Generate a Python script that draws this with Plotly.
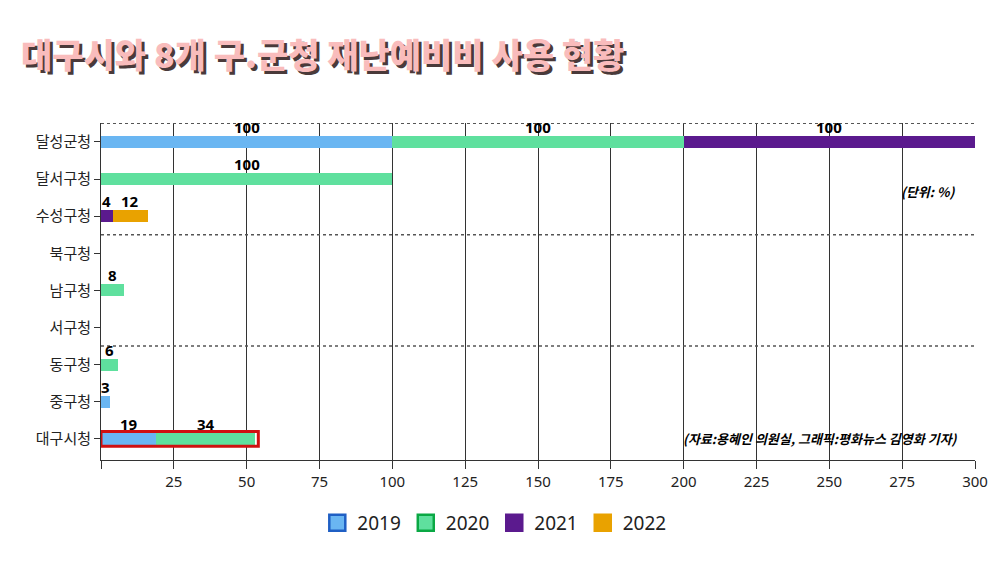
import plotly.graph_objects as go

categories = ["달성군청", "달서구청", "수성구청", "북구청", "남구청", "서구청", "동구청", "중구청", "대구시청"]
years = ["2019", "2020", "2021", "2022"]
v2019 = [100, 0, 0, 0, 0, 0, 0, 3, 19]
v2020 = [100, 100, 0, 0, 8, 0, 6, 0, 34]
v2021 = [100, 0, 4, 0, 0, 0, 0, 0, 0]
v2022 = [0, 0, 12, 0, 0, 0, 0, 0, 0]
series = [v2019, v2020, v2021, v2022]
fills = ["#6ab6f2", "#5fe09e", "#5b1a8e", "#e9a200"]
borders = ["#1f5fc4", "#0aa844", "#5b1a8e", "#e9a200"]
xticks = [0, 25, 50, 75, 100, 125, 150, 175, 200, 225, 250, 275, 300]

fig = go.Figure()
for name, vals, f, b in zip(years, series, fills, borders):
    fig.add_trace(go.Bar(y=categories, x=vals, name=name, orientation="h", showlegend=False,
                         marker=dict(color=f, line=dict(width=0)), width=0.32))
for name, f, b in zip(years, fills, borders):
    fig.add_trace(go.Scatter(x=[None], y=[None], mode="markers", name=name,
                             marker=dict(symbol="square", size=20, color=f, line=dict(color=b, width=2.5))))

ann = []
base = [0] * len(categories)
for vals in series:
    for i, v in enumerate(vals):
        if v > 0:
            ann.append(dict(x=base[i] + v / 2, y=categories[i], text=f"<b>{v}</b>", showarrow=False,
                            yshift=15, font=dict(size=15, color="black", family="Noto Sans")))
        base[i] += v

title = "대구시와 8개 구.군청 재난예비비 사용 현황"
for dx, col in [(3, "#4a3a3a"), (0, "#f9bcbc")]:
    ann.append(dict(xref="paper", yref="paper", x=0.0, y=1.0, xanchor="left", yanchor="middle",
                    text=title, showarrow=False, xshift=-82 + dx, yshift=70 - dx,
                    font=dict(size=34, color=col, family="Noto Sans CJK KR", weight=900)))
ann.append(dict(x=294, y=categories[1], text="<b><i>(단위: %)</i></b>", showarrow=False, yshift=-12,
                xanchor="right", font=dict(size=13, color="black", family="Noto Sans CJK KR")))
ann.append(dict(x=295, y=categories[8], text="<b><i>(자료:용혜인 의원실, 그래픽:평화뉴스 김영화 기자)</i></b>",
                showarrow=False, xanchor="right", font=dict(size=13, color="black", family="Noto Sans CJK KR")))

shapes = []
for yv in [-0.5, 2.5, 5.5]:
    shapes.append(dict(type="line", xref="paper", x0=0, x1=1, y0=yv, y1=yv,
                       line=dict(color="#555", width=1.5, dash="dot")))
shapes.append(dict(type="rect", x0=0, x1=54, y0=8 - 0.2, y1=8 + 0.2, line=dict(color="#d01010", width=3)))

fig.update_layout(
    width=1000, height=579, paper_bgcolor="white", plot_bgcolor="white",
    margin=dict(l=93, r=33, t=115, b=127),
    barmode="stack",
    font=dict(family="Noto Sans CJK KR", size=15, color="#222"),
    xaxis=dict(range=[0, 300], tickvals=xticks, ticktext=[""] + [str(t) for t in xticks[1:]],
               showgrid=True, gridcolor="#333", gridwidth=1.3, zeroline=False,
               ticks="outside", ticklen=8, tickcolor="#333", showline=True, linecolor="#333",
               tickfont=dict(size=15, family="Noto Sans")),
    yaxis=dict(categoryorder="array", categoryarray=categories, range=[8.57, -0.51],
               showgrid=False, ticks="outside", ticklen=6, tickcolor="#333", automargin=False,
               showline=True, linecolor="#333", tickfont=dict(size=15)),
    legend=dict(orientation="h", x=0.45, xanchor="center", y=-0.13, yanchor="top",
                traceorder="normal", font=dict(size=19, family="Noto Sans")),
    annotations=ann, shapes=shapes,
)
fig.write_html("out.html")
